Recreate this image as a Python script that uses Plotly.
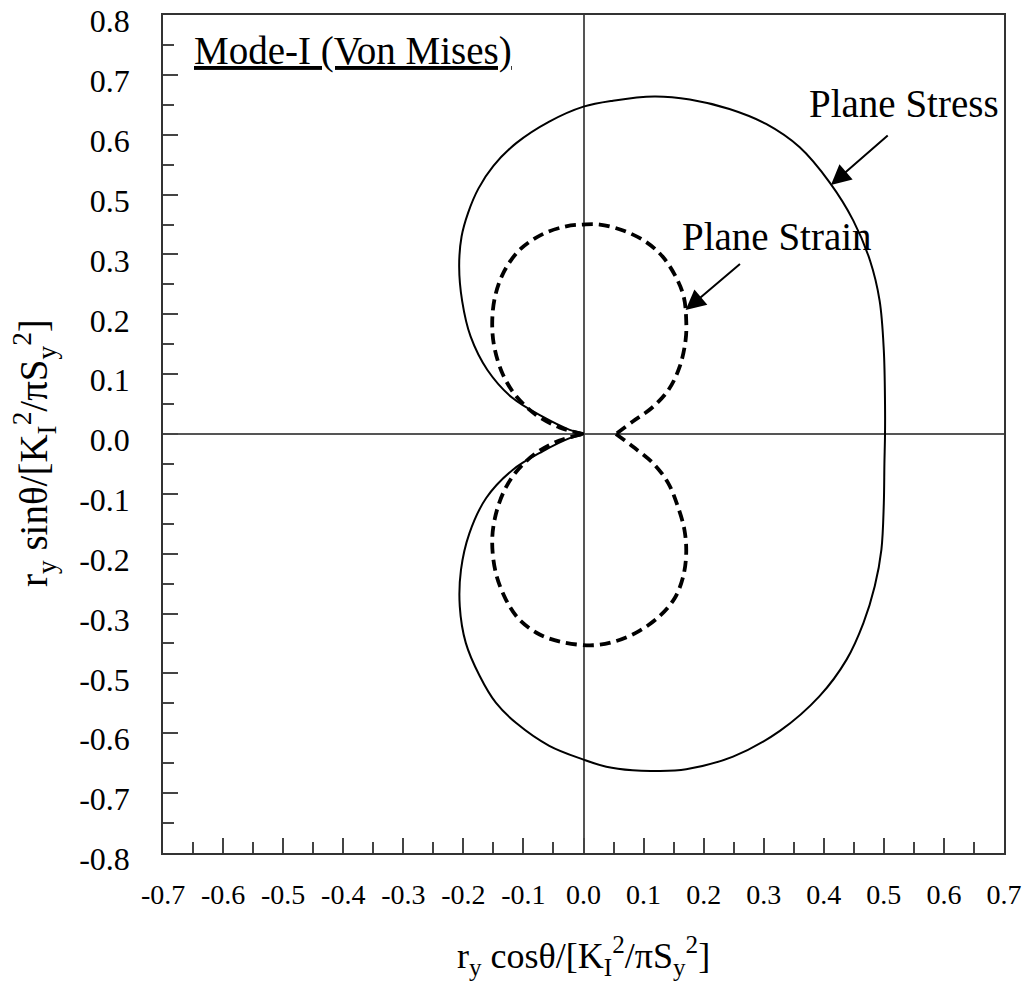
import plotly.graph_objects as go

# Plane stress plastic zone boundary (solid)
stress_x = [0.0, -0.023, -0.068, -0.118, -0.160, -0.188, -0.202, -0.207, -0.203, -0.192,
            -0.175, -0.150, -0.112, -0.057, 0.0, 0.049, 0.118, 0.177, 0.243, 0.304,
            0.36, 0.41, 0.449, 0.477, 0.493, 0.5, 0.502, 0.502, 0.501, 0.5,
            0.496, 0.485, 0.466, 0.438, 0.393, 0.327, 0.249, 0.171, 0.121, 0.082,
            0.038, 0.0, -0.057, -0.112, -0.146, -0.173, -0.196, -0.206, -0.204, -0.19,
            -0.162, -0.118, -0.068, -0.023, 0.0]
stress_y = [0.0, 0.007, 0.029, 0.06, 0.107, 0.163, 0.222, 0.28, 0.33, 0.37,
            0.41, 0.448, 0.486, 0.522, 0.547, 0.557, 0.564, 0.559, 0.543, 0.518,
            0.479, 0.42, 0.357, 0.29, 0.223, 0.14, 0.05, 0.0, -0.05, -0.116,
            -0.193, -0.254, -0.316, -0.377, -0.438, -0.496, -0.539, -0.56, -0.563, -0.562,
            -0.556, -0.544, -0.521, -0.483, -0.449, -0.404, -0.349, -0.288, -0.227, -0.166,
            -0.107, -0.06, -0.029, -0.007, 0.0]

# Plane strain boundary (dashed), upper half: origin -> notch
strain_up_x = [0.0, -0.04, -0.079, -0.112, -0.134, -0.148, -0.152, -0.148, -0.134, -0.107,
               -0.068, -0.029, 0.0, 0.027, 0.066, 0.104, 0.132, 0.154, 0.167, 0.171,
               0.17, 0.16, 0.141, 0.113, 0.082, 0.054]
strain_up_y = [0.0, 0.011, 0.032, 0.063, 0.099, 0.143, 0.182, 0.226, 0.268, 0.307,
               0.334, 0.347, 0.35, 0.35, 0.34, 0.321, 0.296, 0.262, 0.229, 0.19,
               0.157, 0.112, 0.073, 0.043, 0.021, 0.0]
# lower half: notch -> origin
strain_lo_x = [0.054, 0.082, 0.116, 0.141, 0.157, 0.168, 0.171, 0.166, 0.152, 0.127,
               0.093, 0.054, 0.016, -0.034, -0.073, -0.107, -0.129, -0.146, -0.152, -0.148,
               -0.134, -0.112, -0.079, -0.04, 0.0]
strain_lo_y = [0.0, -0.021, -0.049, -0.082, -0.121, -0.16, -0.199, -0.238, -0.274, -0.304,
               -0.329, -0.346, -0.353, -0.348, -0.335, -0.31, -0.277, -0.232, -0.182, -0.143,
               -0.099, -0.063, -0.032, -0.011, 0.0]

# Axis ticks
x_tickvals = [-0.7, -0.6, -0.5, -0.4, -0.3, -0.2, -0.1, 0.0, 0.1, 0.2, 0.3, 0.4, 0.5, 0.6, 0.7]
x_ticktext = ["-0.7", "-0.6", "-0.5", "-0.4", "-0.3", "-0.2", "-0.1", "0.0",
              "0.1", "0.2", "0.3", "0.4", "0.5", "0.6", "0.7"]
x_minorvals = [-0.65, -0.55, -0.45, -0.35, -0.25, -0.15, -0.05, 0.05, 0.15, 0.25, 0.35, 0.45, 0.55, 0.65]
y_tickvals = [-0.7, -0.6, -0.5, -0.4, -0.3, -0.2, -0.1, 0.0, 0.1, 0.2, 0.3, 0.4, 0.5, 0.6, 0.7]
y_ticktext = ["-0.8", "-0.7", "-0.6", "-0.5", "-0.3", "-0.2", "-0.1", "0.0",
              "0.1", "0.2", "0.3", "0.5", "0.6", "0.7", "0.8"]
y_minorvals = [-0.65, -0.55, -0.45, -0.35, -0.25, -0.15, -0.05, 0.05, 0.15, 0.25, 0.35, 0.45, 0.55, 0.65]

FONT = "Liberation Serif, Times New Roman, serif"

fig = go.Figure()
fig.add_trace(go.Scatter(x=stress_x, y=stress_y, mode="lines", name="Plane Stress",
                         line=dict(color="black", width=2, shape="spline", smoothing=1.0)))
for xs, ys in [(strain_up_x, strain_up_y), (strain_lo_x, strain_lo_y)]:
    fig.add_trace(go.Scatter(x=xs, y=ys, mode="lines", name="Plane Strain",
                             line=dict(color="black", width=3.8, dash="11px,6px",
                                       shape="spline", smoothing=1.0)))

axis_common = dict(
    showgrid=False, showline=True, linecolor="#333", linewidth=1.5, mirror=True,
    zeroline=True, zerolinecolor="#555", zerolinewidth=1.5,
    ticks="inside", ticklen=15, tickwidth=1.5, tickcolor="#444",
    range=[-0.7001, 0.7001], tickmode="array", automargin=False,
    ticklabeloverflow="allow",
)

fig.update_layout(
    template="none",
    width=1031, height=993,
    margin=dict(l=163, r=27, t=15, b=140, pad=0),
    paper_bgcolor="white", plot_bgcolor="white",
    showlegend=False,
    font=dict(family=FONT, color="black"),
    xaxis=dict(**axis_common, tickvals=x_tickvals, ticktext=x_ticktext,
               tickfont=dict(family=FONT, size=28, color="black"),
               ticklabelstandoff=16,
               minor=dict(ticks="inside", ticklen=11, tickwidth=1.5, tickcolor="#444",
                          tickvals=x_minorvals)),
    yaxis=dict(**axis_common, tickvals=y_tickvals, ticktext=y_ticktext,
               tickfont=dict(family=FONT, size=32, color="black"),
               ticklabelstandoff=25, ticklabelshift=6,
               minor=dict(ticks="inside", ticklen=11, tickwidth=1.5, tickcolor="#444",
                          tickvals=y_minorvals)),
)

# axis titles
fig.add_annotation(x=0.5, y=0.0, xref="paper", yref="paper", yshift=-103,
                   text="r<sub>y</sub> cosθ/[K<sub>I</sub><sup>2</sup>/πS<sub>y</sub><sup>2</sup>]",
                   showarrow=False, xanchor="center", yanchor="middle",
                   font=dict(family=FONT, size=36, color="black"))
fig.add_annotation(x=0, y=0.5, xref="paper", yref="paper", xshift=-129, yshift=-19,
                   text="r<sub>y</sub> sinθ/[K<sub>I</sub><sup>2</sup>/πS<sub>y</sub><sup>2</sup>]",
                   showarrow=False, xanchor="center", yanchor="middle", textangle=-90,
                   font=dict(family=FONT, size=39, color="black"))

fig.add_annotation(x=-0.652, y=0.640, xref="x", yref="y", text="<u>Mode-I (Von Mises)</u>",
                   showarrow=False, xanchor="left", yanchor="middle",
                   font=dict(family=FONT, size=39, color="black"))
fig.add_annotation(x=0.372, y=0.553, xref="x", yref="y", text="Plane Stress",
                   showarrow=False, xanchor="left", yanchor="middle",
                   font=dict(family=FONT, size=39, color="black"))
fig.add_annotation(x=0.160, y=0.330, xref="x", yref="y", text="Plane Strain",
                   showarrow=False, xanchor="left", yanchor="middle",
                   font=dict(family=FONT, size=39, color="black"))
# arrows
fig.add_annotation(x=0.412, y=0.416, ax=0.509, ay=0.501, xref="x", yref="y", axref="x", ayref="y",
                   text="", showarrow=True, arrowhead=2, arrowsize=2.0, arrowwidth=2, arrowcolor="black")
fig.add_annotation(x=0.17, y=0.207, ax=0.263, ay=0.286, xref="x", yref="y", axref="x", ayref="y",
                   text="", showarrow=True, arrowhead=2, arrowsize=2.0, arrowwidth=2, arrowcolor="black")

# remove the page's default 8px body margin so the figure fills the window exactly
fig.write_html("out.html", config={"displayModeBar": False},
               post_script="document.body.style.margin='0px';")
